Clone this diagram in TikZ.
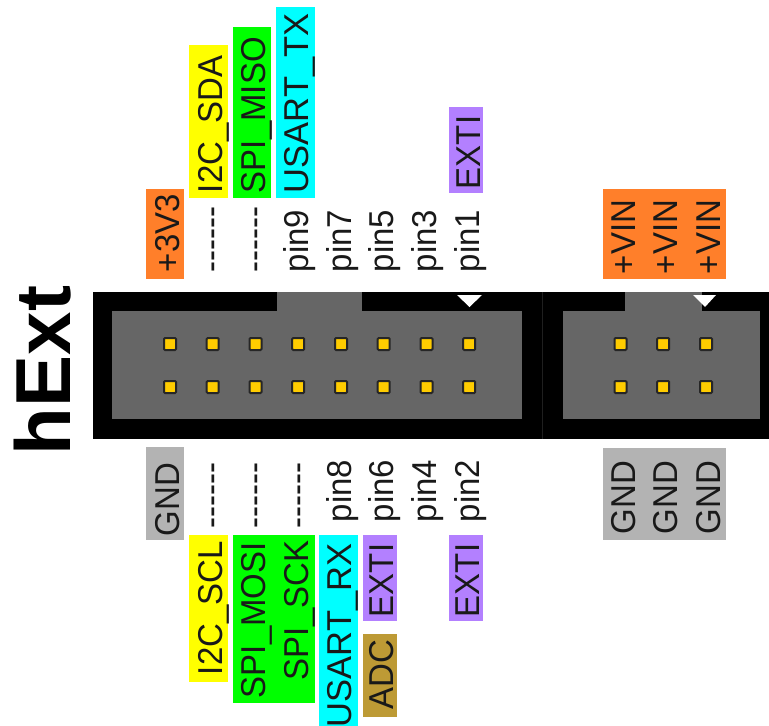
\documentclass[tikz,border=0pt]{standalone}
\usepackage{fontspec}
\setmainfont{Liberation Sans}
\definecolor{c3v}{HTML}{FF7F2A}
\definecolor{cgnd}{HTML}{B3B3B3}
\definecolor{cyel}{HTML}{FFFF00}
\definecolor{cgrn}{HTML}{00FF00}
\definecolor{ccya}{HTML}{00FFFF}
\definecolor{cpur}{HTML}{B380FF}
\definecolor{cadc}{HTML}{BD9A35}
\definecolor{cbody}{HTML}{666666}
\definecolor{cpin}{HTML}{FFCC00}
\newcommand{\lblbox}[5]{\fill[#1] (#2,#3) rectangle (#4,#5);}
\newcommand{\dashtext}{-{}-{}-{}-{}-{}-}
\tikzset{
  lbl/.style={rotate=90,xscale=0.955,anchor=base west,inner sep=0pt,outer sep=0pt,text=black!90,font=\fontsize{34.5}{36}\selectfont},
  lblwide/.style={rotate=90,anchor=base west,inner sep=0pt,outer sep=0pt,text=black!90,font=\fontsize{34.5}{36}\selectfont},
  title/.style={rotate=90,anchor=base west,inner sep=0pt,outer sep=0pt,font=\fontsize{78}{80}\selectfont\bfseries},
  pinsq/.style={fill=cpin,draw=black!85,line width=2pt,rounded corners=1pt}
}
\begin{document}
\begin{tikzpicture}[x=1pt,y=-1pt]
\useasboundingbox (0,0) rectangle (769,726);
\clip (0,0) rectangle (769,726);
% housing
\fill[black] (93,292) rectangle (769,439);
\draw[black!88,line width=1pt] (542,292) -- (542,439);
\fill[cbody] (112,311) rectangle (522,419);
\fill[cbody] (277,292) rectangle (362,312);
\fill[cbody] (563,311) rectangle (760,419);
\fill[cbody] (625,292) rectangle (702,312);
\fill[white] (457,295) -- (482,295) -- (469.5,307) -- cycle;
\fill[white] (693,295) -- (716,295) -- (705,307) -- cycle;
% pins
\foreach \x in {170,212.7,255.5,298.2,341,383.7,426.5,469.2,620.5,663.2,706}
  \foreach \y in {344,387}
    \draw[pinsq] (\x-6,\y-6) rectangle (\x+6,\y+6);
% label backgrounds
\lblbox{c3v}{146}{189}{184}{279}
\lblbox{cyel}{189}{45}{228}{198}
\lblbox{cgrn}{233}{27}{271}{198}
\lblbox{ccya}{276}{7}{315}{198}
\lblbox{cpur}{449}{107}{483}{193}
\lblbox{c3v}{603}{189}{726}{279}
\lblbox{cgnd}{146}{447}{184}{540}
\lblbox{cyel}{189}{535}{228}{682}
\lblbox{cgrn}{233}{535}{315}{703}
\lblbox{ccya}{319}{535}{358}{730}
\lblbox{cpur}{363}{535}{397}{621}
\lblbox{cadc}{363}{634}{397}{717}
\lblbox{cpur}{449}{535}{483}{621}
\lblbox{cgnd}{603}{448}{726}{540}
% title
\node[title] (title) at (70,455) {hExt};
% top labels
\node[lbl] (v33) at (179,272) {+3V3};
\node[lbl] (sda) at (222,193) {I2C\_SDA};
\node[lbl] (miso) at (265,193) {SPI\_MISO};
\node[lblwide] (tx) at (308,193) {USART\_TX};
\node[lbl] (exti1) at (480,189) {EXTI};
\node[lbl] (dashA) at (222,272) {\dashtext};
\node[lbl] (dashB) at (265,272) {\dashtext};
\node[lbl] (p9) at (308,272) {pin9};
\node[lbl] (p7) at (351,272) {pin7};
\node[lbl] (p5) at (393.5,272) {pin5};
\node[lbl] (p3) at (436.5,272) {pin3};
\node[lbl] (p1) at (479,272) {pin1};
\node[lbl] (vina) at (635,274) {+VIN};
\node[lbl] (vinb) at (677.5,274) {+VIN};
\node[lbl] (vinc) at (720,274) {+VIN};
% bottom labels
\node[lbl] (gnd) at (179,536) {GND};
\node[lbl] (dashC) at (222,528) {\dashtext};
\node[lbl] (dashD) at (265,528) {\dashtext};
\node[lbl] (dashE) at (308,528) {\dashtext};
\node[lbl] (p8) at (351,522) {pin8};
\node[lbl] (p6) at (393.5,522) {pin6};
\node[lbl] (p4) at (436.5,522) {pin4};
\node[lbl] (p2) at (479,522) {pin2};
\node[lbl] (scl) at (222,675) {I2C\_SCL};
\node[lbl] (mosi) at (265,698) {SPI\_MOSI};
\node[lbl] (sck) at (308,680) {SPI\_SCK};
\node[lblwide] (rx) at (351,727) {USART\_RX};
\node[lbl] (exti6) at (393.5,617) {EXTI};
\node[lbl] (adc) at (393.5,709) {ADC};
\node[lbl] (exti2) at (479,617) {EXTI};
\node[lbl] (gnda) at (635,534) {GND};
\node[lbl] (gndb) at (677.5,534) {GND};
\node[lbl] (gndc) at (720,534) {GND};
\end{tikzpicture}
\end{document}
